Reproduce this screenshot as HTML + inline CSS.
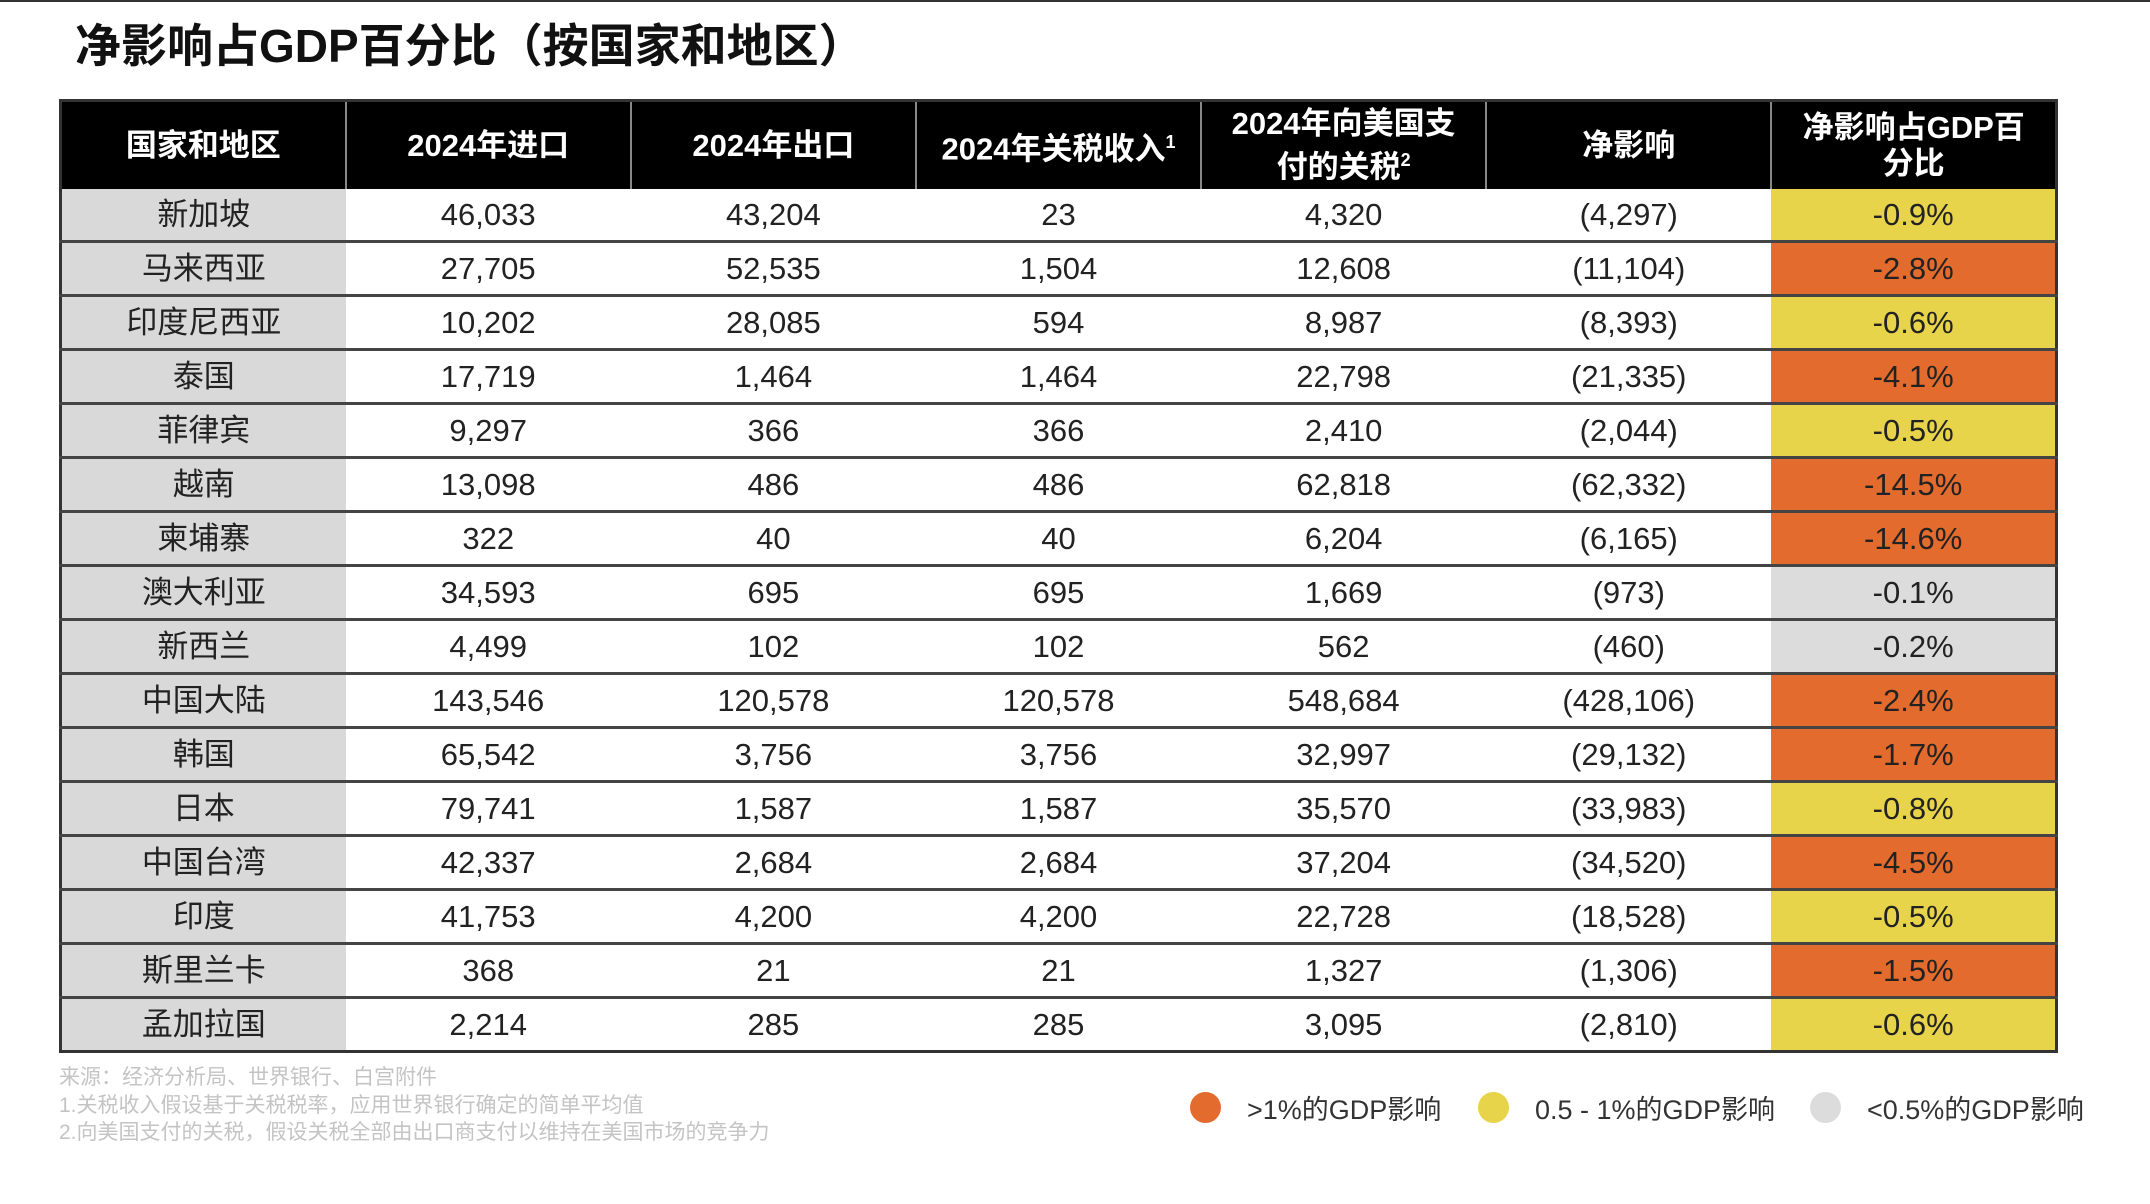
<!DOCTYPE html>
<html><head><meta charset="utf-8">
<style>
html,body{margin:0;padding:0;background:#fff;width:2150px;height:1204px;overflow:hidden;}
body{font-family:"Liberation Sans","Noto Sans CJK SC",sans-serif;position:relative;}
.topline{position:absolute;left:0;top:0;width:2150px;height:2px;background:#333;}
.title{position:absolute;left:75px;top:10px;font-size:46px;font-weight:bold;color:#111;white-space:nowrap;}
table{position:absolute;left:59px;top:99px;border-collapse:collapse;table-layout:fixed;width:1999px;border:3px solid #333;}
th{background:#000;color:#fff;font-size:31px;font-weight:bold;height:87px;padding:0;border-left:2px solid #888;line-height:36px;}
th:first-child{border-left:none;}
td{height:51px;padding:0;text-align:center;font-size:31px;line-height:34px;color:#222;border-top:3px solid #444;}
tbody tr:first-child td{border-top:none;}
td.name{background:#d9d9d9;}
td.o{background:#e36b2d;}
td.y{background:#e8d44a;}
td.g{background:#dcdcdc;}
sup{font-size:18px;}
.notes{position:absolute;left:59px;top:1064px;font-size:21px;color:#c4c4c4;line-height:27.5px;}
.legend{position:absolute;top:1088px;font-size:27px;color:#333;display:flex;align-items:center;white-space:nowrap;}
.dot{width:31px;height:31px;border-radius:50%;margin-right:26px;}
</style></head><body>
<div class="topline"></div>
<div class="title">净影响占GDP百分比（按国家和地区）</div>
<table>
<thead><tr>
<th>国家和地区</th>
<th>2024年进口</th>
<th>2024年出口</th>
<th>2024年关税收入<sup>1</sup></th>
<th>2024年向美国支<br>付的关税<sup>2</sup></th>
<th>净影响</th>
<th>净影响占GDP百<br>分比</th>
</tr></thead>
<tbody id="tb"></tbody>
</table>
<div class="notes">来源：经济分析局、世界银行、白宫附件<br>1.关税收入假设基于关税税率，应用世界银行确定的简单平均值<br>2.向美国支付的关税，假设关税全部由出口商支付以维持在美国市场的竞争力</div>
<div class="legend" style="left:1190px"><div class="dot" style="background:#e36b2d"></div>&gt;1%的GDP影响</div>
<div class="legend" style="left:1478px"><div class="dot" style="background:#e8d44a"></div>0.5 - 1%的GDP影响</div>
<div class="legend" style="left:1810px"><div class="dot" style="background:#dcdcdc"></div>&lt;0.5%的GDP影响</div>
<script>
const regions=["新加坡","马来西亚","印度尼西亚","泰国","菲律宾","越南","柬埔寨","澳大利亚","新西兰","中国大陆","韩国","日本","中国台湾","印度","斯里兰卡","孟加拉国"];
const imports=["46,033","27,705","10,202","17,719","9,297","13,098","322","34,593","4,499","143,546","65,542","79,741","42,337","41,753","368","2,214"];
const exports_=["43,204","52,535","28,085","1,464","366","486","40","695","102","120,578","3,756","1,587","2,684","4,200","21","285"];
const revenue=["23","1,504","594","1,464","366","486","40","695","102","120,578","3,756","1,587","2,684","4,200","21","285"];
const paid=["4,320","12,608","8,987","22,798","2,410","62,818","6,204","1,669","562","548,684","32,997","35,570","37,204","22,728","1,327","3,095"];
const net=["(4,297)","(11,104)","(8,393)","(21,335)","(2,044)","(62,332)","(6,165)","(973)","(460)","(428,106)","(29,132)","(33,983)","(34,520)","(18,528)","(1,306)","(2,810)"];
const pct=["-0.9%","-2.8%","-0.6%","-4.1%","-0.5%","-14.5%","-14.6%","-0.1%","-0.2%","-2.4%","-1.7%","-0.8%","-4.5%","-0.5%","-1.5%","-0.6%"];
const tier=["y","o","y","o","y","o","o","g","g","o","o","y","o","y","o","y"];
const tb=document.getElementById('tb');
regions.forEach((r,i)=>{
  const tr=document.createElement('tr');
  
  
  const vals=[r,imports[i],exports_[i],revenue[i],paid[i],net[i],pct[i]];
  vals.forEach((v,j)=>{
    const td=document.createElement('td');
    
    
    td.textContent=v;
    if(j===0)td.className='name';
    if(j===6)td.className=tier[i];
    tr.appendChild(td);
  });
  tb.appendChild(tr);
});
</script>
</body></html>
